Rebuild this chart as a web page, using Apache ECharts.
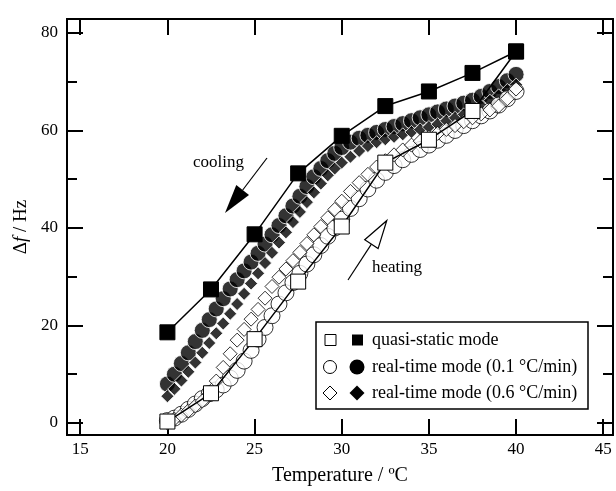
<!DOCTYPE html>
<html>
<head>
<meta charset="utf-8">
<script src="https://cdn.jsdelivr.net/npm/echarts@6/dist/echarts.min.js"></script>
<style>
  html, body { margin: 0; padding: 0; background: #fff; }
  #chart_con { width: 616px; height: 491px; }
</style>
</head>
<body>
<div id="chart_con"></div>
<script>
// axis ticks
const xTicks = [15, 20, 25, 30, 35, 40, 45];
const yTicks = [0, 20, 40, 60, 80];
const yMinorTicks = [10, 30, 50, 70];

// quasi-static mode (squares)
const qsTemp = [20, 22.5, 25, 27.5, 30, 32.5, 35, 37.5, 40];
const qsHeat = [0.3, 6.1, 17.2, 29, 40.3, 53.4, 58.1, 64, 76.2];
const qsCool = [18.6, 27.4, 38.7, 51.2, 58.9, 65, 68, 71.8, 76.2];

// real-time modes
const rtTemp = [20, 20.4, 20.8, 21.2, 21.6, 22, 22.4, 22.8, 23.2, 23.6,
  24, 24.4, 24.8, 25.2, 25.6, 26, 26.4, 26.8, 27.2, 27.6,
  28, 28.4, 28.8, 29.2, 29.6, 30,
  30.5, 31, 31.5, 32, 32.5, 33, 33.5, 34, 34.5, 35,
  35.5, 36, 36.5, 37, 37.5, 38, 38.5, 39, 39.5, 40];
// 0.1 C/min  (circles)
const rt01Cool = [8, 10, 12.2, 14.4, 16.7, 19, 21.2, 23.4, 25.5, 27.5,
  29.4, 31.2, 33, 34.8, 36.7, 38.6, 40.5, 42.5, 44.5, 46.5,
  48.5, 50.5, 52.2, 53.8, 55.3, 56.5,
  57.6, 58.4, 59, 59.6, 60.2, 60.8, 61.4, 62, 62.6, 63.2,
  63.8, 64.4, 65, 65.6, 66.2, 67, 68, 69, 70.2, 71.5];
const rt01Heat = [0.5, 1, 1.8, 2.8, 3.9, 5, 6, 6.8, 7.8, 9.2,
  10.8, 12.7, 14.9, 17.2, 19.6, 22, 24.4, 26.7, 28.8, 30.7,
  32.6, 34.5, 36.4, 38.3, 40, 41.8,
  44, 46, 48, 49.8, 51.4, 52.8, 54, 55.1, 56.1, 57,
  58, 59, 60, 61, 62, 63, 64, 65.2, 66.5, 68];
// 0.6 C/min  (diamonds)
const rt06Cool = [5.5, 7, 8.7, 10.5, 12.4, 14.4, 16.4, 18.4, 20.4, 22.4,
  24.4, 26.5, 28.6, 30.7, 32.8, 34.9, 37, 39.1, 41.2, 43.3,
  45.3, 47.3, 49.1, 50.8, 52.2, 53.4,
  54.6, 55.8, 56.8, 57.6, 58.2, 58.7, 59.2, 59.7, 60.2, 60.7,
  61.3, 62, 62.6, 63.3, 64.1, 65, 66.1, 67.2, 68.3, 69.4];
const rt06Heat = [0, 0.8, 1.6, 2.5, 3.5, 4.5, 6, 8.6, 11.4, 14.2,
  17, 19.2, 21.3, 23.3, 25.6, 28, 29.9, 31.6, 33.3, 35,
  36.8, 38.6, 40.3, 42.1, 43.8, 45.5,
  47.5, 49.3, 51, 52.5, 53.8, 55, 56, 57, 57.8, 58.6,
  59.4, 60.2, 61, 61.8, 62.6, 63.4, 64.2, 65, 66.5, 68.5];

function pairs(xs, ys) {
  return xs.map(function (x, i) { return [x, ys[i]]; });
}

const font = 'Liberation Serif';
const black = '#000';

function xAx(pos, showLabel) {
  return {
    type: 'value', position: pos, min: 14.24, max: 45.56,
    axisLine: { show: true, onZero: false, lineStyle: { color: black, width: 2 } },
    axisTick: { show: true, inside: true, length: 16, customValues: xTicks, lineStyle: { color: black, width: 2 } },
    axisLabel: { show: showLabel, customValues: xTicks, color: black, fontSize: 17, fontFamily: font, margin: 6 },
    splitLine: { show: false }
  };
}
function yAx(pos, ticks, len, showLabel) {
  return {
    type: 'value', position: pos, min: -2.46, max: 82.86,
    axisLine: { show: true, onZero: false, lineStyle: { color: black, width: 2 } },
    axisTick: { show: true, inside: true, length: len, customValues: ticks, lineStyle: { color: black, width: 2 } },
    axisLabel: { show: showLabel, customValues: ticks, color: black, fontSize: 17, fontFamily: font, margin: 9 },
    splitLine: { show: false }
  };
}

let xBottom = xAx('bottom', true);
xBottom.name = 'Temperature / ºC';
xBottom.nameLocation = 'middle';
xBottom.nameGap = 31;
xBottom.nameTextStyle = { color: black, fontSize: 20, fontFamily: font };

let yLeft = yAx('left', yTicks, 16, true);
yLeft.name = '{a|Δ}{i|f}{a| / Hz}';
yLeft.nameLocation = 'middle';
yLeft.nameGap = 32;
yLeft.nameTextStyle = {
  rich: {
    a: { color: black, fontSize: 19, fontFamily: font },
    i: { color: black, fontSize: 19, fontFamily: font, fontStyle: 'italic' }
  }
};

const openStyle = { color: '#fff', borderColor: black, borderWidth: 1 };
const fillStyle = { color: black, borderColor: '#fff', borderWidth: 1 };

// legend drawn by hand: two symbols per row
const lgX = 316, lgY = 322;
const rowsY = [340, 367, 393];
const lgText = ['quasi-static mode', 'real-time mode (0.1 °C/min)', 'real-time mode (0.6 °C/min)'];
function diamond(cx, cy, h) {
  return [[cx, cy - h], [cx + h, cy], [cx, cy + h], [cx - h, cy]];
}
let legendEls = [
  { type: 'rect', shape: { x: lgX, y: lgY, width: 272, height: 87 }, style: { fill: '#fff', stroke: black, lineWidth: 1.5 } },
  { type: 'rect', shape: { x: 325, y: rowsY[0] - 5.5, width: 11, height: 11 }, style: { fill: '#fff', stroke: black, lineWidth: 1 } },
  { type: 'rect', shape: { x: 352, y: rowsY[0] - 5.5, width: 11, height: 11 }, style: { fill: black } },
  { type: 'circle', shape: { cx: 330, cy: rowsY[1], r: 6.5 }, style: { fill: '#fff', stroke: black, lineWidth: 1 } },
  { type: 'circle', shape: { cx: 357, cy: rowsY[1], r: 7.5 }, style: { fill: black } },
  { type: 'polygon', shape: { points: diamond(330, rowsY[2], 7) }, style: { fill: '#fff', stroke: black, lineWidth: 1 } },
  { type: 'polygon', shape: { points: diamond(357, rowsY[2], 7.5) }, style: { fill: black } }
];
lgText.forEach(function (t, i) {
  legendEls.push({ type: 'text', x: 372, y: rowsY[i], style: { text: t, fill: black, font: '18px "Liberation Serif"', verticalAlign: 'middle' } });
});

// cooling / heating arrows
const arrows = [
  { type: 'line', shape: { x1: 267, y1: 158, x2: 242.7, y2: 190 }, style: { stroke: black, lineWidth: 1.2 } },
  { type: 'polygon', shape: { points: [[225, 213], [249, 194.9], [236.3, 185.1]] }, style: { fill: black } },
  { type: 'text', x: 193, y: 163, style: { text: 'cooling', fill: black, font: '17px "Liberation Serif"', verticalAlign: 'middle' } },
  { type: 'line', shape: { x1: 348, y1: 280, x2: 371.4, y2: 244.2 }, style: { stroke: black, lineWidth: 1.2 } },
  { type: 'polygon', shape: { points: [[386.7, 220.7], [378.1, 248.6], [364.7, 239.8]] }, style: { fill: '#fff', stroke: black, lineWidth: 1.2 } },
  { type: 'text', x: 372, y: 268, style: { text: 'heating', fill: black, font: '17px "Liberation Serif"', verticalAlign: 'middle' } }
];

let option = {
  animation: false,
  backgroundColor: '#fff',
  textStyle: { fontFamily: font },
  grid: { left: 67, right: 3, top: 19, bottom: 55, containLabel: false },
  xAxis: [xBottom, xAx('top', false)],
  yAxis: [
    yLeft,
    yAx('right', yTicks, 16, false),
    yAx('left', yMinorTicks, 10, false),
    yAx('right', yMinorTicks, 10, false)
  ],
  graphic: { elements: arrows.concat(legendEls).map(function (e) { e.z = 100; return e; }) },
  series: [
    { type: 'scatter', symbol: 'circle', symbolSize: 16, itemStyle: fillStyle, data: pairs(rtTemp, rt01Cool) },
    { type: 'scatter', symbol: 'diamond', symbolSize: 13, itemStyle: fillStyle, data: pairs(rtTemp, rt06Cool) },
    { type: 'scatter', symbol: 'circle', symbolSize: 16, itemStyle: openStyle, data: pairs(rtTemp, rt01Heat) },
    { type: 'scatter', symbol: 'diamond', symbolSize: 14, itemStyle: openStyle, data: pairs(rtTemp, rt06Heat) },
    {
      type: 'line', symbol: 'rect', symbolSize: 15, showAllSymbol: true,
      itemStyle: { color: '#fff', borderColor: black, borderWidth: 1 },
      lineStyle: { color: black, width: 1.5 },
      data: pairs(qsTemp, qsHeat)
    },
    {
      type: 'line', symbol: 'rect', symbolSize: 15, showAllSymbol: true,
      itemStyle: { color: black, borderColor: black, borderWidth: 1 },
      lineStyle: { color: black, width: 1.5 },
      data: pairs(qsTemp, qsCool)
    }
  ]
};

const chart = echarts.init(document.getElementById('chart_con'));
chart.setOption(option);
</script>
</body>
</html>
